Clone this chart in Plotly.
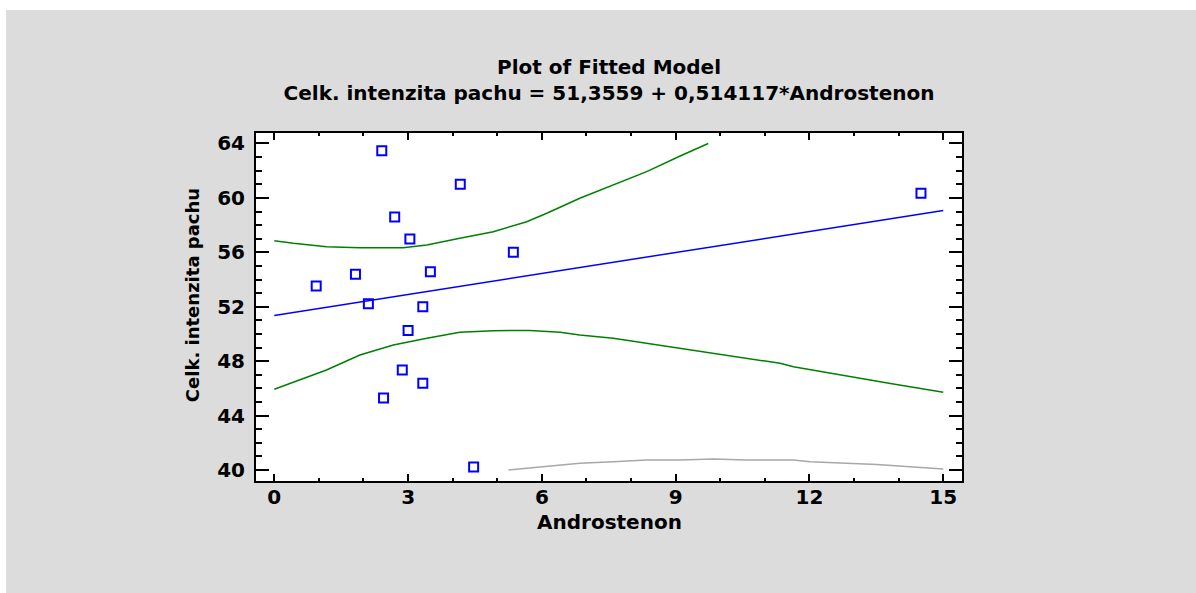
import plotly.graph_objects as go

# Observed data (Androstenon vs Celk. intenzita pachu)
obs_x = [2.41, 4.17, 2.70, 3.04, 5.36, 1.82, 3.50, 0.94, 2.11, 3.33, 3.00, 2.87, 3.33, 2.45, 4.47, 14.50]
obs_y = [63.47, 61.00, 58.60, 56.98, 56.00, 54.38, 54.57, 53.52, 52.22, 52.00, 50.26, 47.35, 46.37, 45.29, 40.21, 60.34]

# Fitted line (read at ends)
fit_x = [0.0, 15.0]
fit_y = [51.36, 59.07]

# Upper confidence limit
upper_x = [0.00, 0.43, 1.17, 1.92, 2.89, 3.42, 4.16, 4.91, 5.66, 6.11, 6.85, 7.60, 8.35, 9.10, 9.73]
upper_y = [56.85, 56.66, 56.41, 56.34, 56.34, 56.54, 57.03, 57.51, 58.25, 58.87, 59.97, 60.95, 61.93, 63.08, 64.00]

# Lower confidence limit
lower_x = [0.00, 1.17, 1.92, 2.67, 3.42, 4.16, 4.91, 5.73, 6.41, 6.85, 7.60, 8.35, 9.10, 9.84, 10.59, 11.34, 11.64, 12.39, 13.13, 13.88, 15.00]
lower_y = [45.93, 47.35, 48.45, 49.18, 49.68, 50.12, 50.24, 50.26, 50.12, 49.92, 49.68, 49.31, 48.94, 48.62, 48.21, 47.84, 47.59, 47.15, 46.74, 46.32, 45.71]

# Lower prediction limit
pred_x = [5.25, 6.11, 6.85, 7.60, 8.35, 9.10, 9.84, 10.59, 11.64, 12.01, 12.75, 13.51, 14.25, 15.00]
pred_y = [40.00, 40.29, 40.49, 40.60, 40.73, 40.73, 40.80, 40.73, 40.73, 40.60, 40.53, 40.41, 40.24, 40.07]

x_ticks = [0, 3, 6, 9, 12, 15]
y_ticks = [40, 44, 48, 52, 56, 60, 64]

title_line1 = "Plot of Fitted Model"
title_line2 = "Celk. intenzita pachu = 51,3559 + 0,514117*Androstenon"
x_title = "Androstenon"
y_title = "Celk. intenzita pachu"

FONT = "DejaVu Sans"
BG = "#dcdcdc"

fig = go.Figure()
fig.add_trace(go.Scatter(x=pred_x, y=pred_y, mode="lines",
                         line=dict(color="#a8a8a8", width=1.5), showlegend=False))
fig.add_trace(go.Scatter(x=upper_x, y=upper_y, mode="lines",
                         line=dict(color="#008000", width=1.5), showlegend=False))
fig.add_trace(go.Scatter(x=lower_x, y=lower_y, mode="lines",
                         line=dict(color="#008000", width=1.5), showlegend=False))
fig.add_trace(go.Scatter(x=fit_x, y=fit_y, mode="lines",
                         line=dict(color="#0000ff", width=1.5), showlegend=False))
fig.add_trace(go.Scatter(x=obs_x, y=obs_y, mode="markers",
                         marker=dict(symbol="square-open", size=9, color="#0000ff",
                                     line=dict(width=2, color="#0000ff")),
                         showlegend=False))

axis_common = dict(showline=True, linecolor="black", linewidth=2, mirror="allticks",
                   ticks="inside", tickcolor="black", showgrid=False, zeroline=False,
                   tickfont=dict(family=FONT, size=20, color="black", weight="bold"))

fig.update_xaxes(range=[-0.41, 15.42], tickvals=x_ticks, ticklen=7, tickwidth=2,
                 minor=dict(dtick=1, tick0=0, ticks="inside", ticklen=3, tickwidth=1.5,
                            tickcolor="black", showgrid=False),
                 ticklabelstandoff=-3, **axis_common)
fig.update_yaxes(range=[39.19, 64.77], tickvals=y_ticks, ticklen=13, tickwidth=2,
                 minor=dict(dtick=1, tick0=40, ticks="inside", ticklen=6, tickwidth=1.5,
                            tickcolor="black", showgrid=False),
                 ticklabelstandoff=5, **axis_common)

fig.update_layout(
    width=1196, height=593,
    margin=dict(l=256, r=234, t=133, b=112),
    paper_bgcolor=BG, plot_bgcolor="white",
    title=dict(text=title_line1 + "<br>" + title_line2, x=0.5, xref="paper",
               y=1 - 74 / 593, yref="container", yanchor="middle", xanchor="center",
               font=dict(family=FONT, size=20, color="black", weight="bold")),
    annotations=[
        dict(text=x_title, x=0.5, y=-0.118, xref="paper", yref="paper",
             xanchor="center", yanchor="middle", showarrow=False,
             font=dict(family=FONT, size=20, color="black", weight="bold")),
        dict(text=y_title, x=-0.0907, y=0.534, xref="paper", yref="paper",
             xanchor="center", yanchor="middle", showarrow=False, textangle=-90,
             font=dict(family=FONT, size=18, color="black", weight="bold")),
    ],
    shapes=[
        dict(type="rect", xref="paper", yref="paper", x0=-0.40, x1=1.40,
             y0=1.3534, y1=1.45, fillcolor="white", line=dict(width=0), layer="above"),
        dict(type="rect", xref="paper", yref="paper", x0=-0.40, x1=-0.3541,
             y0=-0.40, y1=1.45, fillcolor="white", line=dict(width=0), layer="above"),
    ],
)

fig.write_html("out.html")
